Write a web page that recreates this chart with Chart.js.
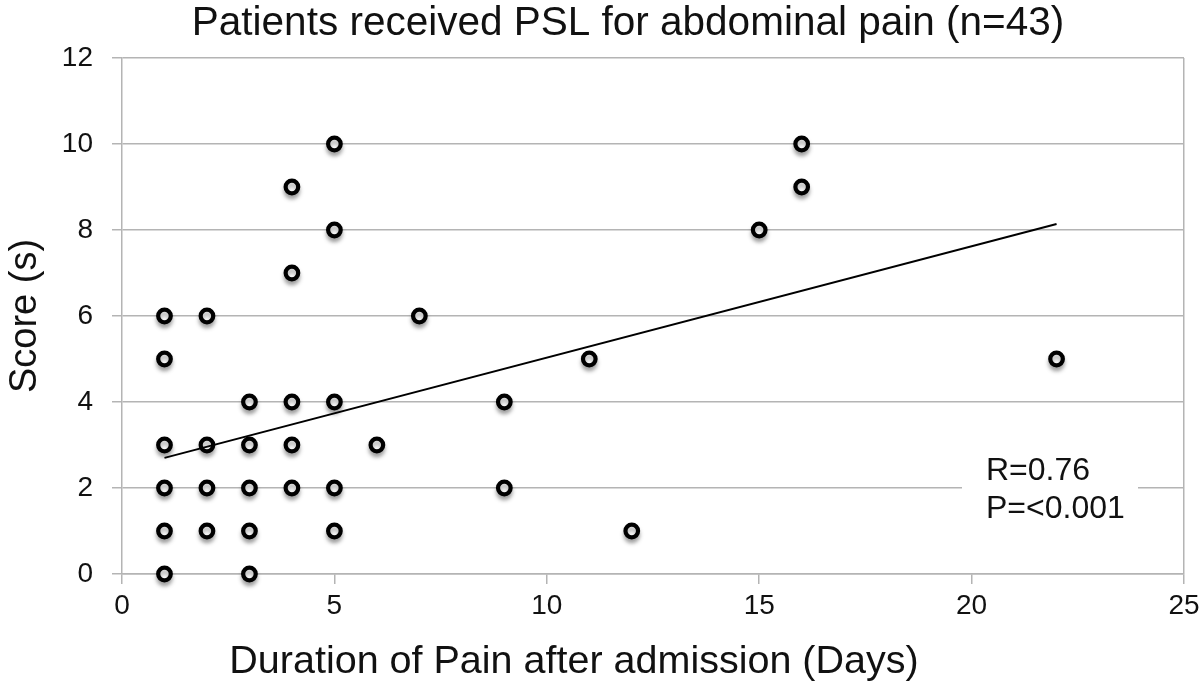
<!DOCTYPE html>
<html>
<head>
<meta charset="utf-8">
<script src="https://cdn.jsdelivr.net/npm/chart.js@4/dist/chart.umd.min.js"></script>
<style>
  html, body { margin: 0; padding: 0; background: #fff; }
  #wrap { width: 1200px; height: 695px; }
</style>
</head>
<body>
<div id="wrap"><canvas id="chart" width="1200" height="695"></canvas></div>
<script>
// datos
const days   = [1, 1, 1, 1, 1, 1, 2, 2, 2, 2, 3, 3, 3, 3, 3, 4, 4, 4, 4, 4, 5, 5, 5, 5, 5, 6, 7, 9, 9, 11, 12, 15, 16, 16, 22];
const scores = [0, 1, 2, 3, 5, 6, 1, 2, 3, 6, 0, 1, 2, 3, 4, 2, 3, 4, 7, 9, 1, 2, 4, 8, 10, 3, 6, 2, 4, 5, 1, 8, 9, 10, 5];
const trendX = [1, 22];
const trendY = [2.7, 8.14];
const xTicks = [0, 5, 10, 15, 20, 25];
const yTicks = [0, 2, 4, 6, 8, 10, 12];
const statLines = ['R=0.76', 'P=<0.001'];

const FONT = '"Liberation Sans", Arial, Helvetica, sans-serif';
const GRID = '#b4b4b4';

// sombra suave bajo los circulos
const shadowPlugin = {
  id: 'shadow',
  beforeDatasetDraw(chart, args) {
    if (args.index !== 1) return;
    const ctx = chart.ctx;
    ctx.shadowColor = 'rgba(0,0,0,0.3)';
    ctx.shadowBlur = 4;
    ctx.shadowOffsetY = 4;
  },
  afterDatasetDraw(chart, args) {
    if (args.index !== 1) return;
    const ctx = chart.ctx;
    ctx.shadowColor = 'transparent';
    ctx.shadowBlur = 0;
    ctx.shadowOffsetY = 0;
  }
};

// titulo, titulo del eje x y cuadro R / P
const textPlugin = {
  id: 'texts',
  afterDraw(chart) {
    const ctx = chart.ctx;
    ctx.save();
    ctx.fillStyle = '#111';
    ctx.textAlign = 'center';
    ctx.textBaseline = 'middle';
    ctx.font = '40.5px ' + FONT;
    ctx.fillText('Patients received PSL for abdominal pain (n=43)', 628, 24);
    ctx.font = '39.5px ' + FONT;
    ctx.fillText('Duration of Pain after admission (Days)', 574, 662);

    ctx.fillStyle = '#fff';
    ctx.fillRect(962, 452, 176, 74);
    ctx.fillStyle = '#111';
    ctx.font = '32px ' + FONT;
    ctx.textAlign = 'left';
    statLines.forEach((t, i) => ctx.fillText(t, 986, 471 + i * 38));
    ctx.restore();
  }
};

new Chart(document.getElementById('chart'), {
  type: 'scatter',
  data: {
    datasets: [
      {
        type: 'line',
        data: trendX.map((x, i) => ({ x, y: trendY[i] })),
        borderColor: '#000',
        borderWidth: 2,
        pointRadius: 0,
        fill: false
      },
      {
        data: days.map((d, i) => ({ x: d, y: scores[i] })),
        pointStyle: 'circle',
        pointRadius: 6.3,
        pointBorderWidth: 4.2,
        pointBorderColor: '#000',
        pointBackgroundColor: '#fff',
        clip: false
      }
    ]
  },
  options: {
    responsive: false,
    animation: false,
    layout: { padding: { top: 58, right: 16, left: 0, bottom: 0 } },
    plugins: { legend: { display: false }, tooltip: { enabled: false } },
    scales: {
      x: {
        type: 'linear',
        min: 0, max: 25,
        afterBuildTicks: s => { s.ticks = xTicks.map(v => ({ value: v })); },
        afterFit: s => { s.height = 121; s.paddingRight = 0; s.paddingLeft = 0; },
        ticks: { color: '#111', font: { family: FONT, size: 28 }, padding: 5 },
        grid: {
          drawOnChartArea: true,
          color: c => (c.tick && c.tick.value === 25 ? GRID : 'transparent'),
          tickColor: GRID,
          tickLength: 10,
          lineWidth: 1.5
        },
        border: { color: GRID, width: 1.5 }
      },
      y: {
        min: 0, max: 12,
        afterBuildTicks: s => { s.ticks = yTicks.map(v => ({ value: v })); },
        afterFit: s => { s.width = 122; },
        ticks: { color: '#111', font: { family: FONT, size: 28 }, padding: 19 },
        grid: { color: GRID, tickLength: 10, lineWidth: 1.5 },
        border: { color: GRID, width: 1.5 },
        title: {
          display: true,
          text: 'Score (s)',
          color: '#111',
          font: { family: FONT, size: 38 },
          padding: { top: 3, bottom: 0 }
        }
      }
    }
  },
  plugins: [shadowPlugin, textPlugin]
});
</script>
</body>
</html>
